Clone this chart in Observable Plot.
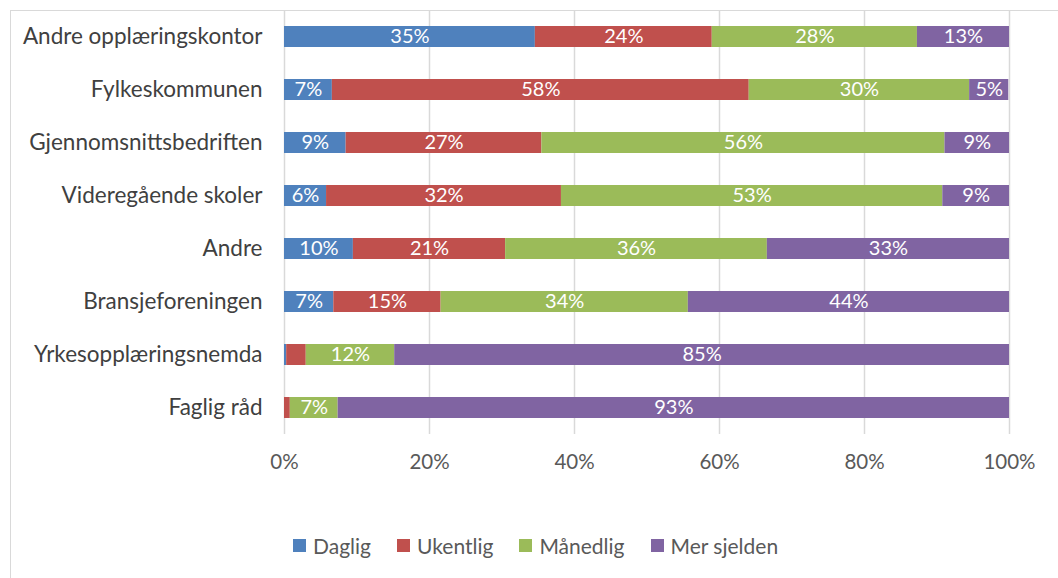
<!DOCTYPE html>
<html>
<head>
<meta charset="utf-8">
<script src="https://cdn.jsdelivr.net/npm/d3@7"></script>
<script src="https://cdn.jsdelivr.net/npm/@observablehq/plot@0.6"></script>
<style>
  body { margin: 0; background: #fff; font-family: Lato, "Open Sans", sans-serif; }
  #wrap { position: relative; width: 1058px; height: 578px; overflow: hidden; }
  #frame { position: absolute; left: 10px; top: 10px; width: 1100px; height: 600px; border: 1.5px solid #d9d9d9; box-sizing: border-box; }
  #chart { position: absolute; left: 0; top: 0; }
  #legend { position: absolute; left: 293px; top: 533px; display: flex; gap: 26px; font-size: 21px; color: #595959; }
  #legend span.item { display: flex; align-items: center; gap: 7px; }
  #legend span.sw { width: 13px; height: 13px; display: inline-block; }
</style>
</head>
<body>
<div id="wrap">
  <div id="frame"></div>
  <div id="chart"></div>
  <div id="legend"></div>
</div>
<script>
const categories = ["Andre opplæringskontor", "Fylkeskommunen", "Gjennomsnittsbedriften", "Videregående skoler", "Andre", "Bransjeforeningen", "Yrkesopplæringsnemda", "Faglig råd"];
const series = ["Daglig", "Ukentlig", "Månedlig", "Mer sjelden"];
const colors = ["#4f81bd", "#c0504d", "#9bbb59", "#8064a2"];
const daglig     = [34.6, 6.6, 8.5, 5.8, 9.5, 6.8, 0.3, 0.0];
const ukentlig   = [24.4, 57.5, 27.0, 32.4, 21.0, 14.8, 2.7, 0.8];
const maanedlig  = [28.3, 30.4, 55.6, 52.6, 36.1, 34.1, 12.2, 6.6];
const merSjelden = [12.7, 5.4, 8.9, 9.2, 33.4, 44.3, 84.8, 92.6];
const xTicks = [0, 20, 40, 60, 80, 100];

const seriesValues = [daglig, ukentlig, maanedlig, merSjelden];
const rows = [];
categories.forEach((c, i) => {
  series.forEach((s, j) => rows.push({cat: c, series: s, value: seriesValues[j][i]}));
});

const font = "Lato, 'Open Sans', sans-serif";
const chart = Plot.plot({
  width: 1058,
  height: 490,
  marginLeft: 284,
  marginRight: 49,
  marginTop: 10,
  marginBottom: 56,
  style: {fontFamily: font, fontSize: "19px", background: "transparent"},
  x: {domain: [0, 100], ticks: xTicks, tickFormat: d => d + "%", label: null},
  y: {domain: categories, label: null, paddingInner: 0.6, paddingOuter: 0.3},
  color: {domain: series, range: colors},
  marks: [
    Plot.ruleX(xTicks, {stroke: "#d9d9d9", strokeWidth: 1.5}),
    Plot.barX(rows, Plot.stackX({x: "value", y: "cat", fill: "series", z: "series"})),
    Plot.textX(rows, Plot.stackX({x: "value", y: "cat", z: "series", text: d => d.value >= 4 ? Math.round(d.value) + "%" : "", fill: "white", fontSize: 20})),
    Plot.axisY({tickSize: 0, tickPadding: 22, fill: "#404040", fontSize: 22.5, label: null}),
    Plot.axisX({ticks: xTicks, tickFormat: d => d + "%", tickSize: 0, tickPadding: 20, fill: "#595959", fontSize: 20.5, label: null})
  ]
});
document.getElementById("chart").appendChild(chart);

const legend = document.getElementById("legend");
series.forEach((s, i) => {
  const item = document.createElement("span");
  item.className = "item";
  const sw = document.createElement("span");
  sw.className = "sw";
  sw.style.background = colors[i];
  item.appendChild(sw);
  item.appendChild(document.createTextNode(s));
  legend.appendChild(item);
});
</script>
</body>
</html>
